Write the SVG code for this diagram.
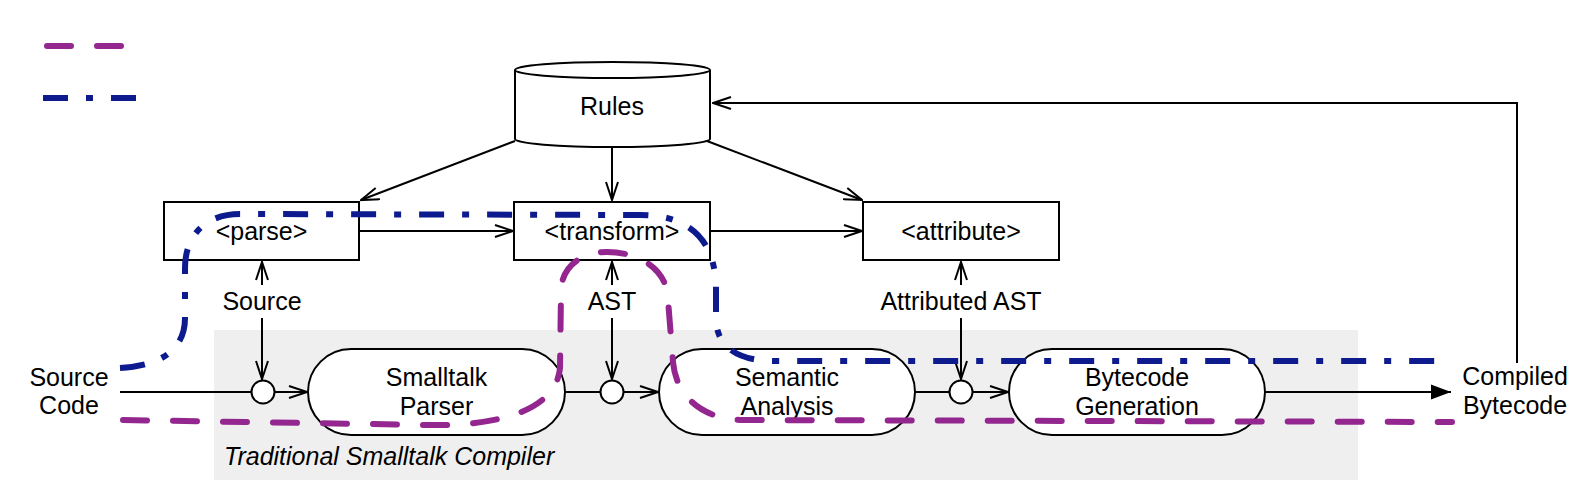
<svg xmlns="http://www.w3.org/2000/svg" width="1582" height="480" viewBox="0 0 1582 480">
<defs>
<style>
.t{font-family:"Liberation Sans",Arial,sans-serif;font-size:25px;fill:#000;text-anchor:middle}
.it{font-style:italic;text-anchor:start}
.box{fill:#fff;stroke:#000;stroke-width:2}
.ln{fill:none;stroke:#000;stroke-width:2}
.purple{fill:none;stroke:#93278f;stroke-width:6;stroke-linecap:round;stroke-dasharray:24 26}
.blue{fill:none;stroke:#0d1b8e;stroke-width:6;stroke-dasharray:25 18 7 18}
</style>
<marker id="open" viewBox="0 0 20 14" refX="19" refY="7" markerWidth="20" markerHeight="14" markerUnits="userSpaceOnUse" orient="auto">
<path d="M1,1 L19,7 L1,13" fill="none" stroke="#000" stroke-width="2"/>
</marker>
<marker id="filled" viewBox="0 0 22 16" refX="21" refY="8" markerWidth="22" markerHeight="16" markerUnits="userSpaceOnUse" orient="auto">
<path d="M1,0.5 L21,8 L1,15.5 Z" fill="#000"/>
</marker>
</defs>
<rect id="bg" x="214" y="330" width="1144" height="150" fill="#efefef"/>
<text class="t it" x="224" y="465">Traditional Smalltalk Compiler</text>
<g id="legend">
<line class="purple" x1="47" y1="46" x2="124" y2="46"/>
<line class="blue" x1="43" y1="98" x2="140" y2="98"/>
</g>
<g id="connectors">
<line class="ln" x1="612" y1="147" x2="612" y2="200" marker-end="url(#open)"/>
<line class="ln" x1="515" y1="141" x2="361" y2="200" marker-end="url(#open)"/>
<line class="ln" x1="707" y1="141" x2="862" y2="200" marker-end="url(#open)"/>
<line class="ln" x1="359" y1="231" x2="513" y2="231" marker-end="url(#open)"/>
<line class="ln" x1="710" y1="231" x2="862" y2="231" marker-end="url(#open)"/>
<line class="ln" x1="262" y1="285" x2="262" y2="262" marker-end="url(#open)"/>
<line class="ln" x1="262" y1="318" x2="262" y2="379" marker-end="url(#open)"/>
<line class="ln" x1="612" y1="285" x2="612" y2="262" marker-end="url(#open)"/>
<line class="ln" x1="612" y1="318" x2="612" y2="379" marker-end="url(#open)"/>
<line class="ln" x1="961" y1="285" x2="961" y2="262" marker-end="url(#open)"/>
<line class="ln" x1="961" y1="318" x2="961" y2="379" marker-end="url(#open)"/>
<line class="ln" x1="120" y1="392" x2="251" y2="392"/>
<line class="ln" x1="274" y1="392" x2="307" y2="392" marker-end="url(#open)"/>
<line class="ln" x1="565" y1="392" x2="600" y2="392"/>
<line class="ln" x1="623" y1="392" x2="658" y2="392" marker-end="url(#open)"/>
<line class="ln" x1="915" y1="392" x2="949" y2="392"/>
<line class="ln" x1="972" y1="392" x2="1008" y2="392" marker-end="url(#open)"/>
<line class="ln" x1="1265" y1="392" x2="1451" y2="392" marker-end="url(#filled)"/>
<polyline class="ln" points="1517,363 1517,103 713,103" marker-end="url(#open)"/>
</g>
<g id="rules">
<path class="box" d="M515,70 L515,139 A97.5,8 0 0 0 710,139 L710,70"/>
<ellipse class="box" cx="612.5" cy="70" rx="97.5" ry="8"/>
<text class="t" x="612" y="115">Rules</text>
</g>
<g id="parse">
<rect class="box" x="164" y="202" width="195" height="58"/>
<text class="t" x="261.5" y="240">&lt;parse&gt;</text>
</g>
<g id="transform">
<rect class="box" x="514" y="202" width="196" height="58"/>
<text class="t" x="612" y="240">&lt;transform&gt;</text>
</g>
<g id="attribute">
<rect class="box" x="863" y="202" width="196" height="58"/>
<text class="t" x="961" y="240">&lt;attribute&gt;</text>
</g>
<g id="labels">
<text class="t" x="262" y="310">Source</text>
<text class="t" x="612" y="310">AST</text>
<text class="t" x="961" y="310">Attributed AST</text>
</g>
<g id="source-code">
<text class="t" x="69" y="386">Source</text>
<text class="t" x="69" y="414">Code</text>
</g>
<g id="compiled-bytecode">
<text class="t" x="1515" y="385">Compiled</text>
<text class="t" x="1515" y="414">Bytecode</text>
</g>
<g id="junction1"><circle class="box" cx="263" cy="392" r="11.5"/></g>
<g id="junction2"><circle class="box" cx="612" cy="392" r="11.5"/></g>
<g id="junction3"><circle class="box" cx="961" cy="392" r="11.5"/></g>
<g id="smalltalk-parser">
<rect class="box" x="308" y="349" width="257" height="86" rx="43" ry="43"/>
<text class="t" x="436.5" y="386">Smalltalk</text>
<text class="t" x="436.5" y="415">Parser</text>
</g>
<g id="semantic-analysis">
<rect class="box" x="659" y="349" width="256" height="86" rx="43" ry="43"/>
<text class="t" x="787" y="386">Semantic</text>
<text class="t" x="787" y="415">Analysis</text>
</g>
<g id="bytecode-generation">
<rect class="box" x="1009" y="349" width="256" height="86" rx="43" ry="43"/>
<text class="t" x="1137" y="386">Bytecode</text>
<text class="t" x="1137" y="415">Generation</text>
</g>
<g id="paths">
<path class="blue" d="M120,368 C160,366 185,350 185,318 L185,268 C185,236 205,214 240,214 L640,215 C690,215 716,240 716,290 L716,318 C716,345 735,361 775,361 L1448,361"/>
<path class="purple" d="M123,420 L430,425 C500,426 556,410 560,368 L561,292 C561,266 582,252 607,252 C640,252 668,270 668,300 L673,362 C676,395 700,418 740,420 L1452,422"/>
</g>
</svg>
